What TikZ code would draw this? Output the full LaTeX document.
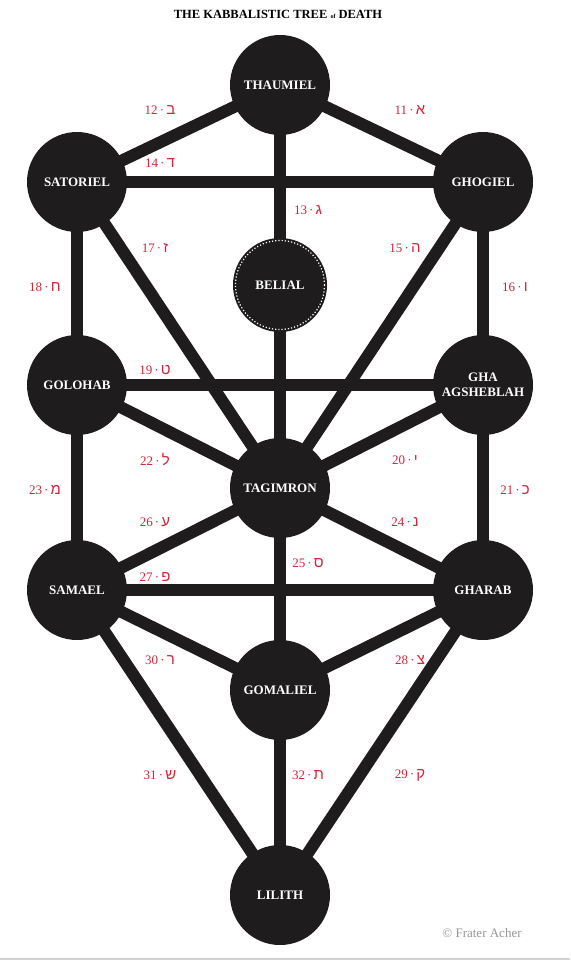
\documentclass[tikz,border=0pt]{standalone}
\usepackage{fontspec}
\setmainfont{Liberation Serif}
\newfontfamily\hebfont[Script=Hebrew,Scale=1.15]{Liberation Sans}
\TeXXeTstate=1
\usetikzlibrary{backgrounds}
\definecolor{sephdark}{RGB}{30,28,29}
\definecolor{pathred}{RGB}{210,36,58}
\definecolor{creditgrey}{RGB}{150,150,150}
\tikzset{
  qlipha/.style={circle, fill=sephdark, minimum size=100pt, inner sep=0pt,
    text=white, font=\bfseries\fontsize{13}{15}\selectfont, align=center},
  tunnel/.style={draw=sephdark, line width=12pt},
  pathlbl/.style={text=pathred, font=\fontsize{13}{14}\selectfont, inner sep=1pt},
}
\newcommand{\heb}[1]{{\hebfont\beginR #1\endR}}
\begin{document}
\begin{tikzpicture}[x=1pt,y=-1pt]
  \useasboundingbox (0,0) rectangle (570,960);
  \node[font=\bfseries\fontsize{12.5}{14}\selectfont] (title) at (278,14)
    {THE KABBALISTIC TREE {\fontsize{6}{7}\selectfont of} DEATH};
  % the qliphoth
  \node[qlipha] (thaumiel) at (280,85) {THAUMIEL};
  \node[qlipha] (satoriel) at (77,182) {SATORIEL};
  \node[qlipha] (ghogiel) at (483,182) {GHOGIEL};
  \node[qlipha, minimum size=94pt] (belial) at (280,285) {BELIAL};
  \draw[white, dotted, line width=1.2pt] (belial.center) circle (44.5);
  \node[qlipha] (golohab) at (77,385) {GOLOHAB};
  \node[qlipha] (ghaag) at (483,385) {GHA\\AGSHEBLAH};
  \node[qlipha] (tagimron) at (280,488) {TAGIMRON};
  \node[qlipha] (samael) at (77,590) {SAMAEL};
  \node[qlipha] (gharab) at (483,590) {GHARAB};
  \node[qlipha] (gomaliel) at (280,690) {GOMALIEL};
  \node[qlipha] (lilith) at (280,895) {LILITH};
  % the tunnels
  \begin{scope}[on background layer]
    \draw[tunnel] (thaumiel.center) -- (satoriel.center);
    \draw[tunnel] (thaumiel.center) -- (ghogiel.center);
    \draw[tunnel] (thaumiel.center) -- (tagimron.center);
    \draw[tunnel] (satoriel.center) -- (ghogiel.center);
    \draw[tunnel] (satoriel.center) -- (tagimron.center);
    \draw[tunnel] (ghogiel.center) -- (tagimron.center);
    \draw[tunnel] (satoriel.center) -- (golohab.center);
    \draw[tunnel] (ghogiel.center) -- (ghaag.center);
    \draw[tunnel] (golohab.center) -- (ghaag.center);
    \draw[tunnel] (golohab.center) -- (tagimron.center);
    \draw[tunnel] (ghaag.center) -- (tagimron.center);
    \draw[tunnel] (golohab.center) -- (samael.center);
    \draw[tunnel] (ghaag.center) -- (gharab.center);
    \draw[tunnel] (tagimron.center) -- (samael.center);
    \draw[tunnel] (tagimron.center) -- (gharab.center);
    \draw[tunnel] (tagimron.center) -- (gomaliel.center);
    \draw[tunnel] (samael.center) -- (gharab.center);
    \draw[tunnel] (samael.center) -- (gomaliel.center);
    \draw[tunnel] (gharab.center) -- (gomaliel.center);
    \draw[tunnel] (samael.center) -- (lilith.center);
    \draw[tunnel] (gharab.center) -- (lilith.center);
    \draw[tunnel] (gomaliel.center) -- (lilith.center);
  \end{scope}
  % the path numbers and letters
  \node[pathlbl] (p11) at (410,110) {11\,·\,\heb{א}};
  \node[pathlbl] (p12) at (160,110) {12\,·\,\heb{ב}};
  \node[pathlbl] (p13) at (308,210) {13\,·\,\heb{ג}};
  \node[pathlbl] (p14) at (160,163) {14\,·\,\heb{ד}};
  \node[pathlbl] (p15) at (405,248) {15\,·\,\heb{ה}};
  \node[pathlbl] (p16) at (515,287) {16\,·\,\heb{ו}};
  \node[pathlbl] (p17) at (155,248) {17\,·\,\heb{ז}};
  \node[pathlbl] (p18) at (45,287) {18\,·\,\heb{ח}};
  \node[pathlbl] (p19) at (155,370) {19\,·\,\heb{ט}};
  \node[pathlbl] (p20) at (405,460) {20\,·\,\heb{י}};
  \node[pathlbl] (p21) at (515,490) {21\,·\,\heb{כ}};
  \node[pathlbl] (p22) at (155,460) {22\,·\,\heb{ל}};
  \node[pathlbl] (p23) at (45,490) {23\,·\,\heb{מ}};
  \node[pathlbl] (p24) at (405,522) {24\,·\,\heb{נ}};
  \node[pathlbl] (p25) at (308,563) {25\,·\,\heb{ס}};
  \node[pathlbl] (p26) at (155,522) {26\,·\,\heb{ע}};
  \node[pathlbl] (p27) at (155,577) {27\,·\,\heb{פ}};
  \node[pathlbl] (p28) at (410,660) {28\,·\,\heb{צ}};
  \node[pathlbl] (p29) at (410,775) {29\,·\,\heb{ק}};
  \node[pathlbl] (p30) at (160,660) {30\,·\,\heb{ר}};
  \node[pathlbl] (p31) at (160,775) {31\,·\,\heb{ש}};
  \node[pathlbl] (p32) at (308,775) {32\,·\,\heb{ת}};
  \node[text=creditgrey, font=\fontsize{13}{15}\selectfont] (credit) at (482,933)
    {© Frater Acher};
  \draw[gray!35, line width=2pt] (0,959) -- (570,959);
\end{tikzpicture}
\end{document}
